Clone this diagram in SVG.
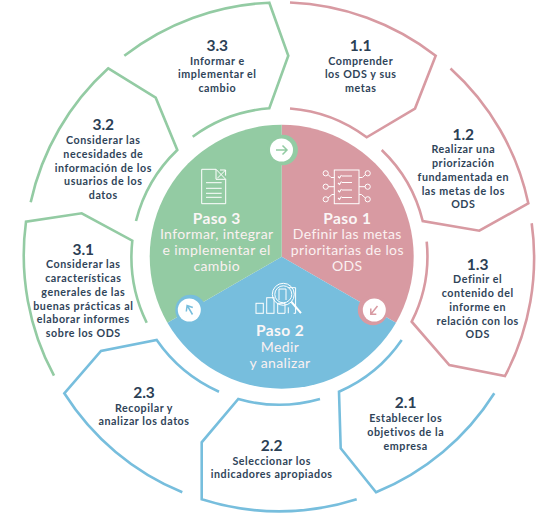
<svg xmlns="http://www.w3.org/2000/svg" width="559" height="515" viewBox="0 0 559 515">
<style>
.o{fill:none;stroke-width:2.6;stroke-linejoin:miter}
.g{stroke:#93cba3}.p{stroke:#d89aa2}.b{stroke:#77bedd}
text{font-family:Lato,"Liberation Sans",sans-serif;text-anchor:middle}
.n{font-size:15.5px;font-weight:700;fill:#2b4055}
.l{font-size:10.7px;font-weight:700;fill:#2f4459;letter-spacing:.55px}
.h{font-size:15.5px;font-weight:700;fill:#fbf6f6;letter-spacing:.4px}
.d{font-size:14px;font-weight:400;fill:#fbf1f1;letter-spacing:.38px}
.i{fill:none;stroke:#fff;stroke-width:1}
.a{fill:none;stroke-width:1.5}
</style>
<rect width="559" height="515" fill="#fff"/>
<g id="disc">
<path d="M281.700 256.700V124.700A132 132 0 0 1 396 322.700Z" fill="#d89aa2"/>
<path d="M281.700 256.700L396 322.700A132 132 0 0 1 167.400 322.700Z" fill="#77bedd"/>
<path d="M281.700 256.700L167.400 322.700A132 132 0 0 1 281.700 124.700Z" fill="#93cba3"/>
</g>
<g id="paso1">
<g class="i">
<rect x="334.300" y="170" width="24.700" height="33.700"/>
<path d="M342 176h10M342 182.500h10M342 190h10M342 197.500h10" stroke-width="1.200"/>
<path d="M338 176.500l1.500 1.500 2-3M338 183l1.500 1.500 2-3M338 190.500l1.500 1.500 2-3M338 198l1.500 1.500 2-3" stroke-width="1.100"/>
<circle cx="325.700" cy="173.300" r="2.600"/><circle cx="325.700" cy="186.700" r="2.600"/><circle cx="325.700" cy="199.300" r="2.600"/>
<circle cx="367.700" cy="173.300" r="2.600"/><circle cx="367.700" cy="186.700" r="2.600"/><circle cx="367.700" cy="199.300" r="2.600"/>
<path d="M328 174.500l3 3h3.300M328.300 186.700h6M328 198l4-3.500h2.300M365.400 174.500l-3 3h-3.400M365.100 186.700h-6.100M365.400 198l-4-3.500h-2.400"/>
</g>
<text class="h" x="347.300" y="224">Paso 1</text>
<text class="d" x="347.300" y="239.300">Definir las metas</text>
<text class="d" x="347.300" y="255">prioritarias de los</text>
<text class="d" x="347.300" y="271">ODS</text>
</g>
<g id="paso2">
<g class="i">
<rect x="256" y="303.300" width="7.300" height="10"/>
<rect x="266.700" y="297.700" width="7.300" height="15.600"/>
<path d="M277.700 313.300v-10h7.300v10zM279 300v-11h7v11M288.300 313.300v-6M288.300 287.700h7.300v25.600h-2"/>
<circle cx="283.300" cy="294.300" r="11"/><circle cx="283.300" cy="294.300" r="8.500"/>
<path d="M291.500 302l9.500 11.200" stroke-width="2"/>
</g>
<text class="h" x="280" y="336">Paso 2</text>
<text class="d" x="280" y="352.300">Medir</text>
<text class="d" x="280" y="367.700">y analizar</text>
</g>
<g id="paso3">
<g class="i">
<path d="M201.700 169.300h14.300v10h9.700v24.400h-24zM216 169.300l9.700 10"/>
<path d="M206 182.700h15.700M206 188.300h15.700M206 193.300h15.700M206 197.300h15.700"/>
<path d="M217.300 178.300l8.300-8.300M220 170h5.600v5.600"/>
</g>
<text class="h" x="216.700" y="224">Paso 3</text>
<text class="d" x="216.700" y="239.300">Informar, integrar</text>
<text class="d" x="216.700" y="255">e implementar el</text>
<text class="d" x="216.700" y="271">cambio</text>
</g>
<g id="flechas">
<circle cx="282.700" cy="150" r="15.200" fill="#93cba3"/><circle cx="281.500" cy="150" r="11.500" fill="#fff"/>
<path class="a" stroke="#93cba3" d="M276 150h11M282.500 145.500l4.500 4.500-4.500 4.500"/>
<circle cx="373" cy="310" r="15.200" fill="#d89aa2"/><circle cx="374.300" cy="310" r="11.500" fill="#fff"/>
<path class="a" stroke="#d89aa2" d="M377.500 306l-6.500 8M370.800 308.500v5.800h5.500"/>
<circle cx="190.500" cy="310" r="15.200" fill="#77bedd"/><circle cx="189.300" cy="310" r="11.500" fill="#fff"/>
<path class="a" stroke="#77bedd" d="M192.500 314.500l-5-8.500M186.300 311.500l.8-6 5.700 2"/>
</g>
<g id="n11"><path class="o p" d="M290 2.500A254 254 0 0 1 435.700 55.700L415 108.500L366.700 137.300A147 147 0 0 0 290 108.500"/>
<text class="n" x="360.700" y="51">1.1</text><text class="l" x="360.700" y="65">Comprender</text><text class="l" x="360.700" y="78">los ODS y sus</text><text class="l" x="360.700" y="91.700">metas</text></g>
<g id="n12"><path class="o p" d="M450.500 68.500A252 252 0 0 1 528.300 203.300L479.300 230.700L422.700 221A146 146 0 0 0 381.700 150"/>
<text class="n" x="463.300" y="140">1.2</text><text class="l" x="463.300" y="152.700">Realizar una</text><text class="l" x="463.300" y="166.700">priorización</text><text class="l" x="463.300" y="180.700">fundamentada en</text><text class="l" x="463.300" y="194.700">las metas de los</text><text class="l" x="463.300" y="207.500">ODS</text></g>
<g id="n13"><path class="o p" d="M531.700 223.300A253 253 0 0 1 505 376L449.300 365L411.700 321.700A145 145 0 0 0 426.700 241.700"/>
<text class="n" x="477.700" y="270">1.3</text><text class="l" x="477.700" y="283">Definir el</text><text class="l" x="477.700" y="296.700">contenido del</text><text class="l" x="477.700" y="311">informe en</text><text class="l" x="477.700" y="324.700">relación con los</text><text class="l" x="477.700" y="337.700">ODS</text></g>
<g id="n21"><path class="o b" d="M494.300 393.300A253 253 0 0 1 376 492.300L340.700 448.300L339 391.700A147 147 0 0 0 401.700 340"/>
<text class="n" x="405.700" y="407.700">2.1</text><text class="l" x="405.700" y="421.700">Establecer los</text><text class="l" x="405.700" y="435.700">objetivos de la</text><text class="l" x="405.700" y="449.700">empresa</text></g>
<g id="n22"><path class="o b" d="M356.700 499.300A254 254 0 0 1 201.700 499.300V442.300L238.300 399A149 149 0 0 0 320 399"/>
<text class="n" x="271.700" y="451">2.2</text><text class="l" x="271.700" y="465">Seleccionar los</text><text class="l" x="271.700" y="477.700">indicadores apropiados</text></g>
<g id="n23"><path class="o b" d="M182.300 492.300A254 254 0 0 1 64.300 393.300L101 351L156.700 340A150 150 0 0 0 219 391.700"/>
<text class="n" x="144" y="397.700">2.3</text><text class="l" x="144" y="411.700">Recopilar y</text><text class="l" x="144" y="425">analizar los datos</text></g>
<g id="n31"><path class="o g" d="M54 375.700A254 254 0 0 1 26 221.700L81.700 213.300L132.300 240.700A150 150 0 0 0 146.700 322.700"/>
<text class="n" x="83.300" y="255">3.1</text><text class="l" x="83.300" y="267.700">Considerar las</text><text class="l" x="83.300" y="281.700">características</text><text class="l" x="83.300" y="295.700">generales de las</text><text class="l" x="83.300" y="309.700">buenas prácticas al</text><text class="l" x="83.300" y="322.700">elaborar informes</text><text class="l" x="83.300" y="336.700">sobre los ODS</text></g>
<g id="n32"><path class="o g" d="M30.700 202.300A254 254 0 0 1 108.300 68.300L155.700 97.700L177.300 150A148 148 0 0 0 136 221"/>
<text class="n" x="103.300" y="130">3.2</text><text class="l" x="103.300" y="144">Considerar las</text><text class="l" x="103.300" y="158">necesidades de</text><text class="l" x="103.300" y="172">información de los</text><text class="l" x="103.300" y="185">usuarios de los</text><text class="l" x="103.300" y="199">datos</text></g>
<g id="n33"><path class="o g" d="M124.300 55.700A254 254 0 0 1 269.300 2.700L288.300 55.700L269.300 108.300A148 148 0 0 0 192.700 136.700"/>
<text class="n" x="217.300" y="51">3.3</text><text class="l" x="217.300" y="65">Informar e</text><text class="l" x="217.300" y="77.700">implementar el</text><text class="l" x="217.300" y="91.700">cambio</text></g>
</svg>
